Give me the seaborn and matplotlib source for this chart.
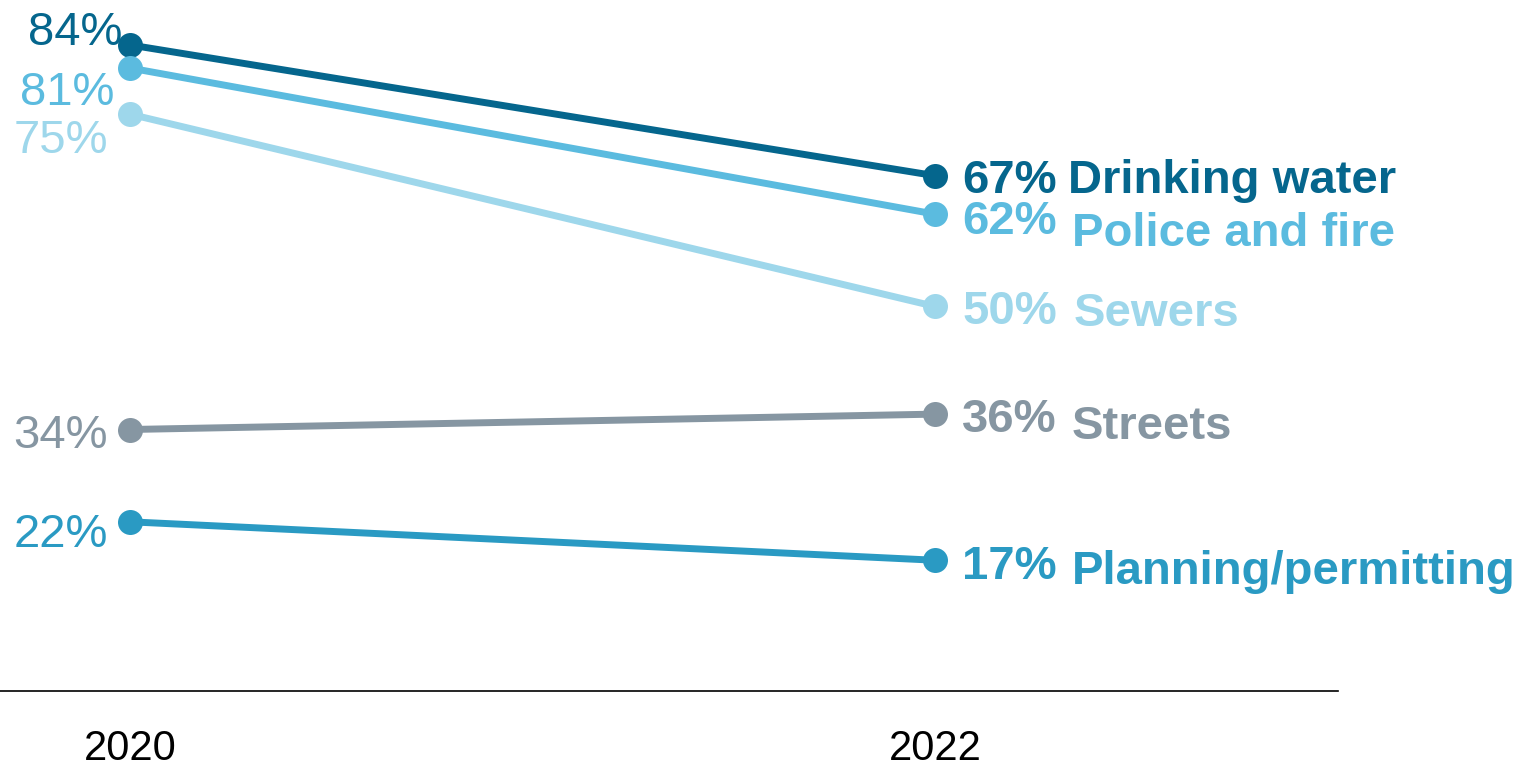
import pandas as pd
import seaborn as sns
import matplotlib.pyplot as plt

# Survey values
years = [2020, 2022]
services = ['Drinking water', 'Police and fire', 'Sewers', 'Streets', 'Planning/permitting']
pct_2020 = [84, 81, 75, 34, 22]
pct_2022 = [67, 62, 50, 36, 17]

colors = ['#05668D', '#5BBBDF', '#9ED7EB', '#8696A2', '#2A9AC3']

# label offsets in pixels (dx, dy) relative to the point, baseline aligned
left_off = [(-8, 0), (-16, -37), (-22, -39), (-22, -18), (-22, -25)]
right_val_off = [(27, -17), (27, -20), (27, -18), (27, -18), (27, -19)]
right_name_off = [(133, -17), (137, -32), (139, -20), (137, -25), (137, -24)]

rows = []
for s, a, b in zip(services, pct_2020, pct_2022):
    rows.append({'service': s, 'year': years[0], 'pct': a})
    rows.append({'service': s, 'year': years[1], 'pct': b})
df = pd.DataFrame(rows)

sns.set_style('white')
plt.rcParams['font.family'] = ['Liberation Sans', 'DejaVu Sans']

W, H = 1535, 762
fig = plt.figure(figsize=(W / 100, H / 100), dpi=100)
ax = fig.add_axes([0, 71 / H, 1338 / W, 691 / H])

sns.lineplot(data=df, x='year', y='pct', hue='service', hue_order=services,
             palette=dict(zip(services, colors)), marker='o', markersize=18,
             markeredgewidth=0, linewidth=5, legend=False, ax=ax)

px = 72 / 100  # pixels -> points
for i, s in enumerate(services):
    c = colors[i]
    ax.annotate(f'{pct_2020[i]}%', xy=(years[0], pct_2020[i]),
                xytext=(left_off[i][0] * px, left_off[i][1] * px), textcoords='offset points',
                ha='right', va='baseline', fontsize=34, color=c, annotation_clip=False)
    ax.annotate(f'{pct_2022[i]}%', xy=(years[1], pct_2022[i]),
                xytext=(right_val_off[i][0] * px, right_val_off[i][1] * px), textcoords='offset points',
                ha='left', va='baseline', fontsize=34, fontweight='bold', color=c,
                annotation_clip=False)
    ax.annotate(s, xy=(years[1], pct_2022[i]),
                xytext=(right_name_off[i][0] * px, right_name_off[i][1] * px), textcoords='offset points',
                ha='left', va='baseline', fontsize=34, fontweight='bold', color=c,
                annotation_clip=False)

ax.set_xlim(2020 - 130 / 402.5, 2020 + 1208 / 402.5)
ax.set_ylim(0, 84 + 45 / 7.7)
ax.set_xticks(years)
ax.set_xticklabels([str(y) for y in years], fontsize=30, color='black')
ax.tick_params(axis='x', length=0, pad=27)
ax.set_yticks([])
ax.set_xlabel('')
ax.set_ylabel('')
for side in ['top', 'right', 'left']:
    ax.spines[side].set_visible(False)
ax.spines['bottom'].set_color('black')
ax.spines['bottom'].set_linewidth(1.2)
ax.patch.set_alpha(0)

fig.savefig('out.png', dpi=100)
